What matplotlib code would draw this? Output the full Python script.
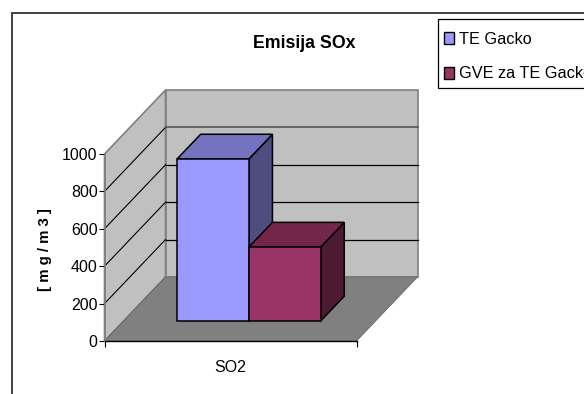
import matplotlib
matplotlib.use("Agg")
import matplotlib.pyplot as plt
from matplotlib.patches import Polygon, Patch, Rectangle

plt.rcParams['font.family'] = ['Liberation Sans', 'DejaVu Sans']

title = "Emisija SOx"
ylabel = "[ m g / m 3 ]"
category = "SO2"
series = ["TE Gacko", "GVE za TE Gacko"]
values = [866, 395]
yticks = [0, 200, 400, 600, 800, 1000]
front_colors = ["#9999FF", "#993366"]
top_colors = ["#7373BF", "#732649"]
side_colors = ["#4D4D80", "#4D1A33"]

W, H = 584, 394
fig = plt.figure(figsize=(W/100, H/100), dpi=100, facecolor='white')
ax = fig.add_axes([104.5/W, (H-341)/H, 252/W, 187/H])
ax.set_xlim(0, 1)
ax.set_ylim(0, 1000)
ax.patch.set_visible(False)
for s in ax.spines.values():
    s.set_visible(False)

DX, DY = 61/252, 64/187*1000

def P(x, v, d):
    return (x + d*DX, v + d*DY)

def face(pts, fc, ec='none', lw=0, z=1):
    ax.add_patch(Polygon(pts, closed=True, facecolor=fc, edgecolor=ec, linewidth=lw,
                         clip_on=False, zorder=z, joinstyle='miter'))

top = yticks[-1]
# walls and floor
face([P(0, 0, 0), P(0, 0, 1), P(0, top, 1), P(0, top, 0)], '#C0C0C0', '#808080', 1.2, 1)
face([P(0, 0, 1), P(1, 0, 1), P(1, top, 1), P(0, top, 1)], '#C0C0C0', '#808080', 1.2, 1)
face([P(0, 0, 0), P(1, 0, 0), P(1, 0, 1), P(0, 0, 1)], '#808080', '#666666', 0.6, 1.5)

# gridlines
for v in yticks[1:-1]:
    x, y = zip(P(0, v, 0), P(0, v, 1))
    ax.plot(x, y, color='black', lw=0.8, clip_on=False, zorder=1.2)
    x, y = zip(P(0, v, 1), P(1, v, 1))
    back_c, back_w = ('#555555', 1.2) if v == yticks[-2] else ('black', 0.9)
    ax.plot(x, y, color=back_c, lw=back_w, clip_on=False, zorder=1.2)

# axis lines
ax.plot([0, 0], [0, top], color='#808080', lw=1.3, clip_on=False, zorder=2)
ax.plot([0, 1], [0, 0], color='black', lw=1.0, clip_on=False, zorder=2)

# bars
bar_w = 0.285
center = 0.497
d0, d1 = 0.3125, 0.70
for i, v in enumerate(values):
    x0 = center + (i-1)*bar_w
    x1 = x0 + bar_w
    z = 3 + i
    kw = dict(ec='black', lw=1.1, z=z)
    face([P(x1, 0, d0), P(x1, 0, d1), P(x1, v, d1), P(x1, v, d0)], side_colors[i], **kw)
    face([P(x0, v, d0), P(x1, v, d0), P(x1, v, d1), P(x0, v, d1)], top_colors[i], **kw)
    face([P(x0, 0, d0), P(x1, 0, d0), P(x1, v, d0), P(x0, v, d0)], front_colors[i], **kw)

# ticks
ax.set_yticks(yticks)
ax.tick_params(axis='y', length=4.5, width=0.8, color='black', pad=0.5, labelsize=11.5)
ax.set_xticks([0.5])
ax.set_xticklabels([category], fontsize=11.5)
ax.tick_params(axis='x', which='major', length=0, pad=14)
ax.set_xticks([0, 1], minor=True)
ax.tick_params(axis='x', which='minor', length=4.5, width=0.8, color='black')

fig.text(304.5/W, 1-43/H, title, fontsize=12.8, fontweight='bold', ha='center', va='center')
fig.text(45/W, 1-249.5/H, ylabel, fontsize=10.8, fontweight='bold', rotation=90, ha='center', va='center')

# outer chart frame, running off the right and bottom
fig.add_artist(Rectangle((12/W, -0.1), 1.2, 1.1-13/H, transform=fig.transFigure,
                         facecolor='none', edgecolor='#333333', linewidth=1.3))
# legend box, running off the right
fig.add_artist(Rectangle((438/W, 1-88/H), 0.5, 69/H, transform=fig.transFigure,
                         facecolor='white', edgecolor='black', linewidth=0.9))

handles = [Patch(facecolor=c, edgecolor='black', linewidth=1.0) for c in front_colors]
leg = fig.legend(handles, series, loc='upper left', bbox_to_anchor=(444/W, 1-32/H),
                 fontsize=11.7, frameon=False, borderpad=0, borderaxespad=0,
                 handlelength=0.62, handleheight=0.75, handletextpad=0.32, labelspacing=1.2)
leg.set_zorder(5)

fig.savefig("out.png", dpi=100)
